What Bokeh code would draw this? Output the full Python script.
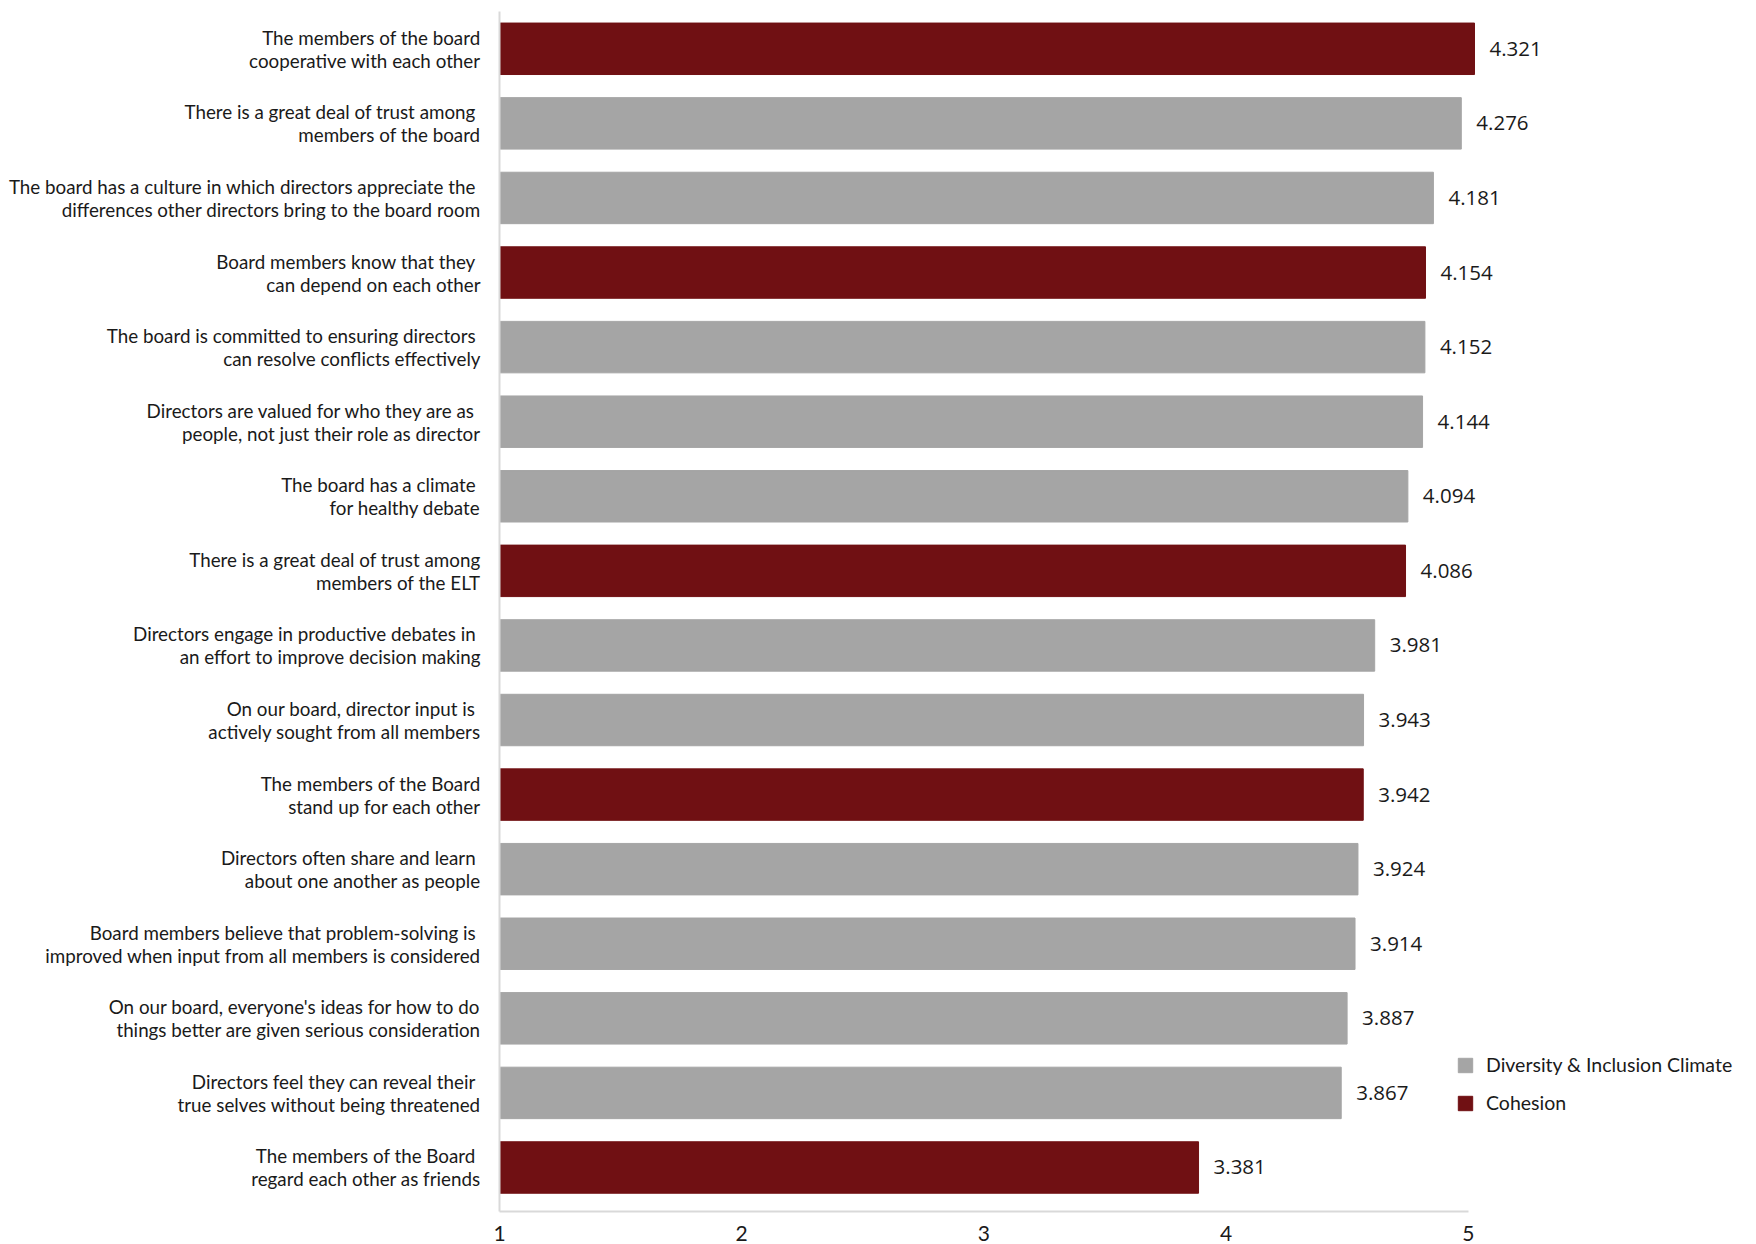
from bokeh.plotting import figure
from bokeh.models import ColumnDataSource, FixedTicker, Legend, LegendItem
from bokeh.core.properties import value
from bokeh.embed import file_html
from bokeh.resources import INLINE

labels = [
    "The members of the board\ncooperative with each other",
    "There is a great deal of trust among \nmembers of the board",
    "The board has a culture in which directors appreciate the \ndifferences other directors bring to the board room",
    "Board members know that they \ncan depend on each other",
    "The board is committed to ensuring directors \ncan resolve conflicts effectively",
    "Directors are valued for who they are as \npeople, not just their role as director",
    "The board has a climate \nfor healthy debate",
    "There is a great deal of trust among\nmembers of the ELT",
    "Directors engage in productive debates in \nan effort to improve decision making",
    "On our board, director input is \nactively sought from all members",
    "The members of the Board\nstand up for each other",
    "Directors often share and learn \nabout one another as people",
    "Board members believe that problem-solving is \nimproved when input from all members is considered",
    "On our board, everyone's ideas for how to do\nthings better are given serious consideration",
    "Directors feel they can reveal their \ntrue selves without being threatened",
    "The members of the Board \nregard each other as friends",
]
values = [4.321, 4.276, 4.181, 4.154, 4.152, 4.144, 4.094, 4.086,
          3.981, 3.943, 3.942, 3.924, 3.914, 3.887, 3.867, 3.381]
groups = ["Cohesion", "Diversity & Inclusion Climate", "Diversity & Inclusion Climate",
          "Cohesion", "Diversity & Inclusion Climate", "Diversity & Inclusion Climate",
          "Diversity & Inclusion Climate", "Cohesion", "Diversity & Inclusion Climate",
          "Diversity & Inclusion Climate", "Cohesion", "Diversity & Inclusion Climate",
          "Diversity & Inclusion Climate", "Diversity & Inclusion Climate",
          "Diversity & Inclusion Climate", "Cohesion"]
tick_labels = ["1", "2", "3", "4", "5"]

colors = {"Cohesion": "#701013", "Diversity & Inclusion Climate": "#a5a5a5"}
LABEL_FONT = "Lato"
VALUE_FONT = "Open Sans"

x_start, axis_end, view_end = 1.0, 4.30, 5.244
n = len(labels)
pos = list(range(n))

p = figure(width=1756, height=1244, output_backend="svg", toolbar_location=None,
           x_range=(x_start, view_end), y_range=(n - 0.41, -0.5),
           min_border_left=499, min_border_right=11, min_border_top=11,
           min_border_bottom=33)
p.outline_line_color = None
p.grid.grid_line_color = None

renderers = {}
for g in ["Diversity & Inclusion Climate", "Cohesion"]:
    idx = [i for i in range(n) if groups[i] == g]
    src = ColumnDataSource(dict(y=[pos[i] for i in idx], right=[values[i] for i in idx]))
    renderers[g] = p.hbar(y="y", left=x_start, right="right", height=0.69, source=src,
                          fill_color=colors[g], line_color=colors[g])

lab_src = ColumnDataSource(dict(x=values, y=pos, t=[f"{v:.3f}" for v in values]))
p.text(x="x", y="y", text="t", source=lab_src, x_offset=15, text_baseline="middle",
       text_align="left", text_font=value(VALUE_FONT), text_font_size="20.5px",
       text_color="#1a1a1a")

# y axis
p.yaxis.ticker = FixedTicker(ticks=pos)
p.yaxis.major_label_overrides = {i: labels[i] for i in range(n)}
p.yaxis.major_tick_line_color = None
p.yaxis.minor_tick_line_color = None
p.yaxis.major_label_standoff = 13
p.yaxis.major_label_text_font = LABEL_FONT
p.yaxis.major_label_text_font_size = "18.8px"
p.yaxis.major_label_text_line_height = 1.0
p.yaxis.major_label_text_color = "#1a1a1a"
p.yaxis.major_label_text_align = "right"
p.yaxis.axis_line_color = "#d9d9d9"
p.yaxis.axis_line_width = 2

# x axis
step = (axis_end - x_start) / (len(tick_labels) - 1)
tick_pos = [x_start + k * step for k in range(len(tick_labels))]
p.xaxis.ticker = FixedTicker(ticks=tick_pos)
p.xaxis.bounds = (x_start, axis_end)
p.xaxis.major_label_overrides = {t: lab for t, lab in zip(tick_pos, tick_labels)}
p.xaxis.major_tick_line_color = None
p.xaxis.minor_tick_line_color = None
p.xaxis.major_label_standoff = 8
p.xaxis.major_label_text_font = LABEL_FONT
p.xaxis.major_label_text_font_size = "21px"
p.xaxis.major_label_text_color = "#1a1a1a"
p.xaxis.axis_line_color = "#d9d9d9"
p.xaxis.axis_line_width = 2

legend = Legend(items=[LegendItem(label="Diversity & Inclusion Climate",
                                  renderers=[renderers["Diversity & Inclusion Climate"]]),
                       LegendItem(label="Cohesion", renderers=[renderers["Cohesion"]])],
                location=(957, 97), orientation="vertical",
                background_fill_alpha=0, border_line_color=None,
                padding=0, margin=0, spacing=15,
                glyph_width=18, glyph_height=18, label_height=18,
                label_standoff=12,
                label_text_font=LABEL_FONT, label_text_font_size="19.5px",
                label_text_color="#1a1a1a")
p.add_layout(legend, "center")

open("out.html", "w").write(file_html(p, INLINE))
